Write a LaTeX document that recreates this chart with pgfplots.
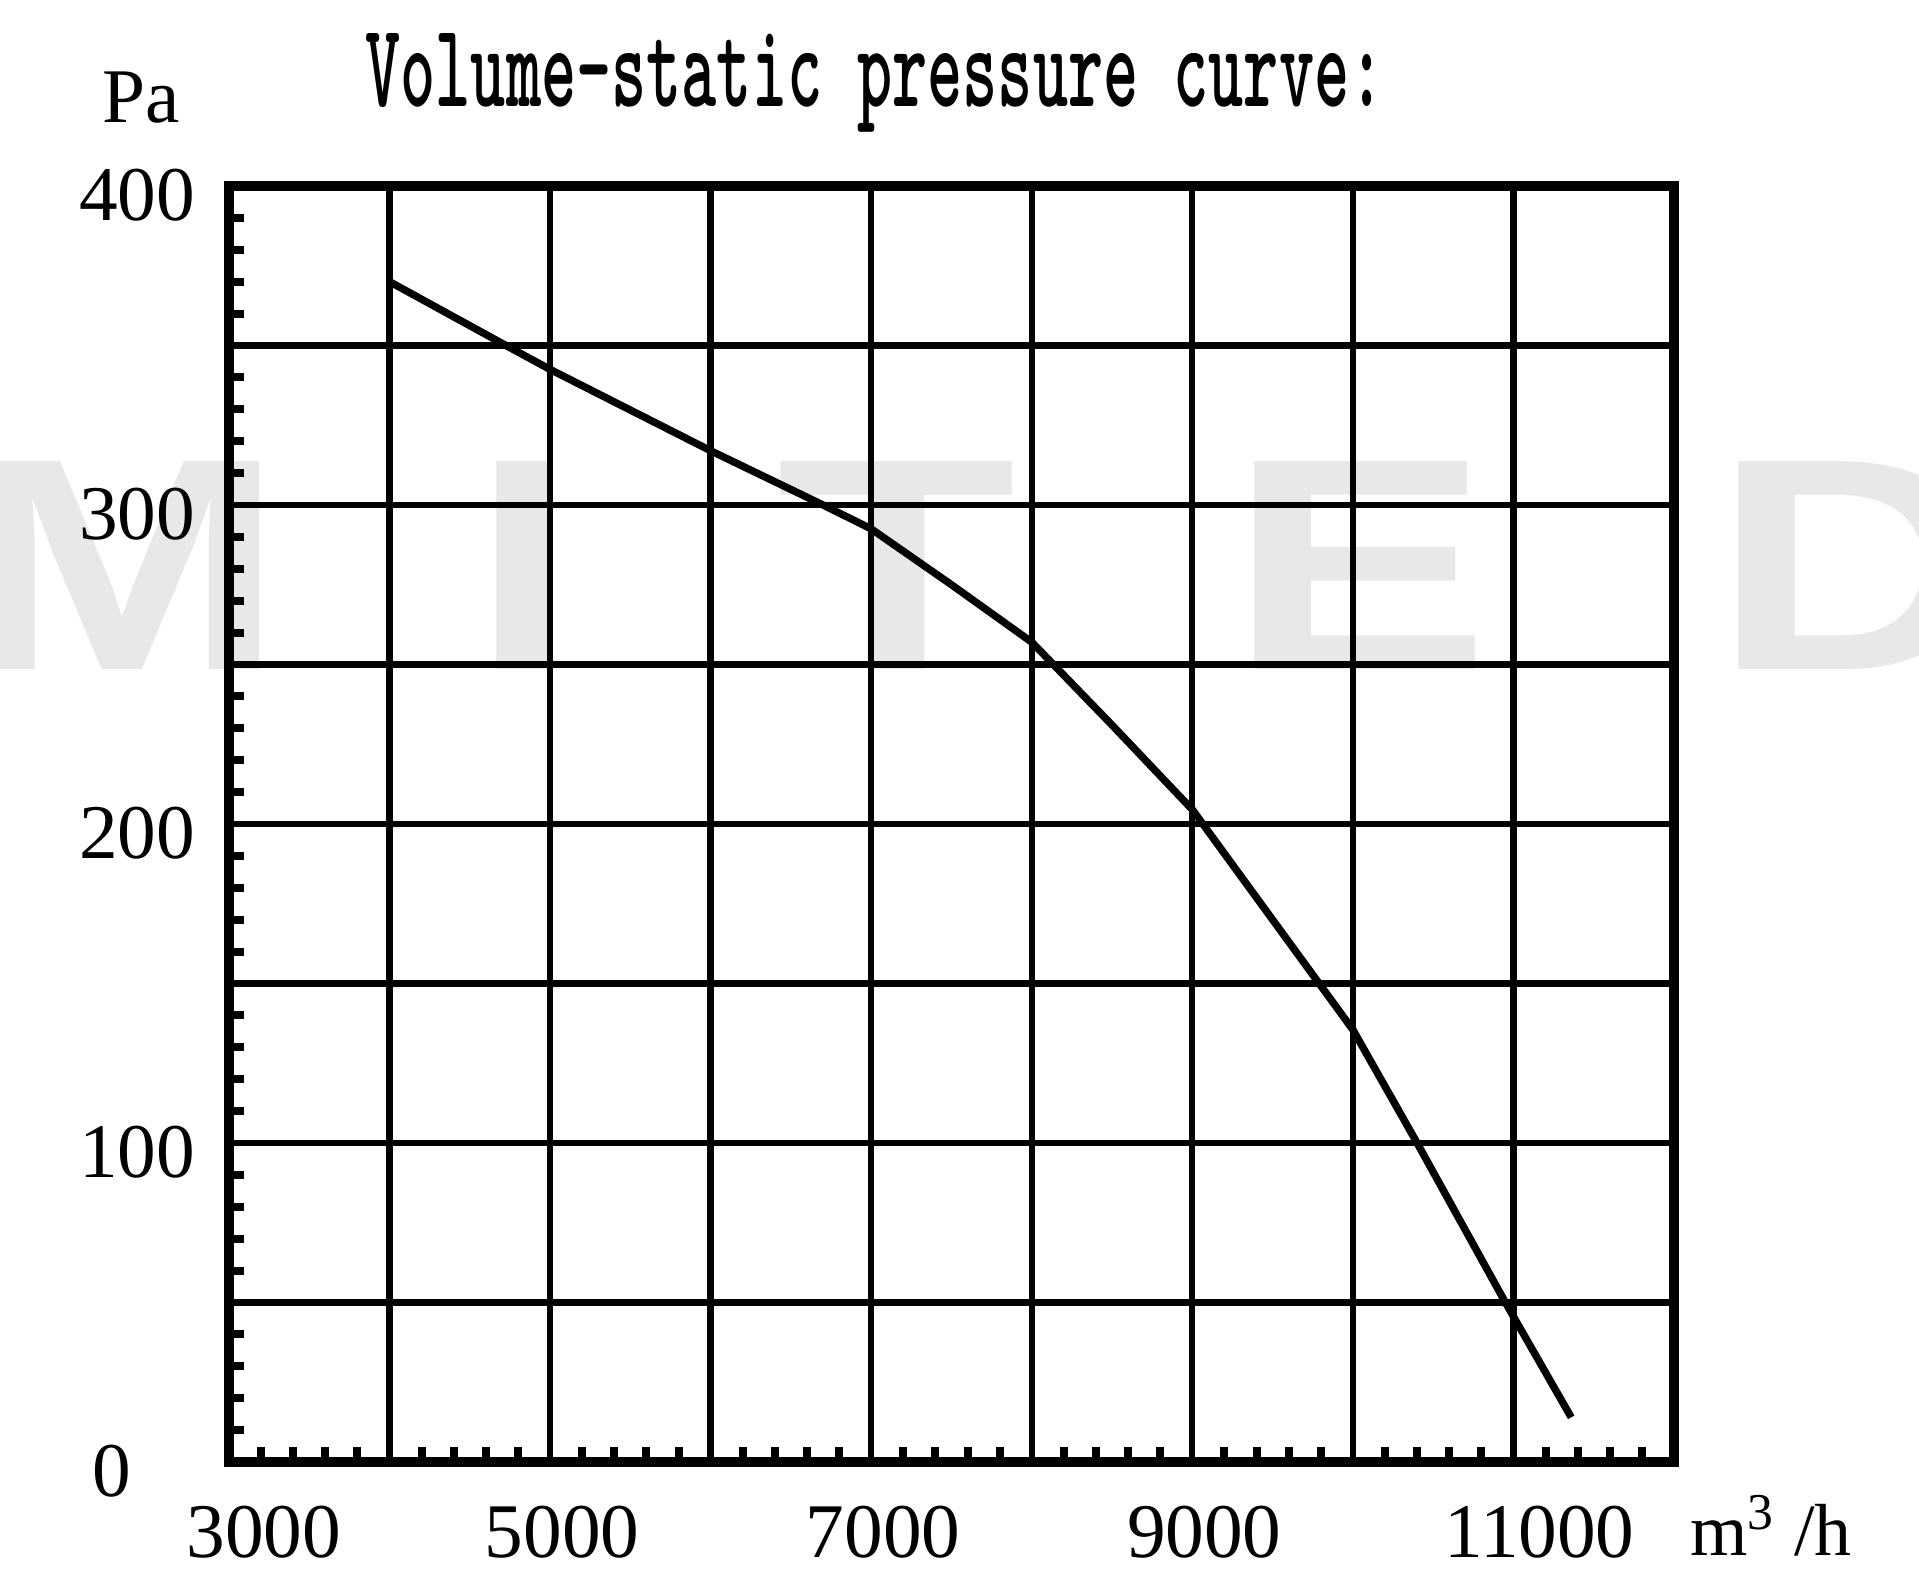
\documentclass[border=0pt]{standalone}
\usepackage{fontspec}
\setmainfont{Liberation Serif}
\newfontfamily\wmfont{Liberation Sans}
\usepackage{graphicx}
\usepackage{pgfplots}
\pgfplotsset{compat=1.18}
\begin{document}
\begin{tikzpicture}
\path[use as bounding box] (-2.29cm,-1.18cm) rectangle (16.90cm,14.62cm);
% watermark
\begin{scope}[every node/.style={anchor=base, inner sep=0pt, text=black!9, font=\wmfont\bfseries\fontsize{86}{86}\selectfont}]
\node at (-1.07cm,7.92cm) {\scalebox{1.3}[1]{M}};
\node at (2.96cm,7.92cm) {\scalebox{1.3}[1]{I}};
\node at (6.68cm,7.92cm) {\scalebox{1.3}[1]{T}};
\node at (11.31cm,7.92cm) {\scalebox{1.3}[1]{E}};
\node at (16.25cm,7.92cm) {\scalebox{1.3}[1]{D}};
\end{scope}
\begin{axis}[
  at={(0,0)}, anchor=south west,
  scale only axis, width=14.45cm, height=12.76cm,
  xmin=3000, xmax=12000, ymin=0, ymax=400,
  xtick={3000,4000,...,12000},
  xticklabels={\hspace*{4.6mm}3000,,5000,,7000,,9000,,\hspace*{2.8mm}11000,},
  ytick={0,50,...,400},
  yticklabels={0\hspace*{6.4mm},,100,,200,,300,,400},
  minor x tick num=4, minor y tick num=4,
  xtick pos=bottom, ytick pos=left,
  tick align=inside,
  major tick length=0pt, minor tick length=1.5mm,
  every minor tick/.style={line width=2.3pt, black},
  grid=major,
  major grid style={line width=1.8pt, black},
  axis line style={line width=2.9pt, black},
  ticklabel style={font=\fontsize{22}{22}\selectfont},
  xticklabel style={anchor=north, inner sep=0pt, yshift=-4.3mm, xshift=1.2mm},
  yticklabel style={anchor=east, inner sep=0pt, xshift=-3.3mm, yshift=-0.9mm},
]
\addplot[black, line width=2.1pt, line join=round, mark=none] coordinates {
(4000,370) (4725,350) (5000,342.5) (6000,317) (6700,300) (7000,292.5)
(7500,275) (8000,257) (8500,231) (9000,204.5) (9500,170) (10000,135.5)
(10400,100) (10950,50) (11360,14)
};
\end{axis}
\node[font=\fontsize{22}{22}\selectfont] at (-0.88cm,13.64cm) {Pa};
\node[font=\fontsize{21}{21}\selectfont] at (15.42cm,-0.64cm) {m\textsuperscript{3} /h};
\node[anchor=base, inner sep=0pt] at (6.46cm,13.55cm) {\scalebox{0.56}[1]{\fontsize{34}{34}\selectfont\ttfamily\bfseries Volume-static pressure curve:}};
\end{tikzpicture}
\end{document}
